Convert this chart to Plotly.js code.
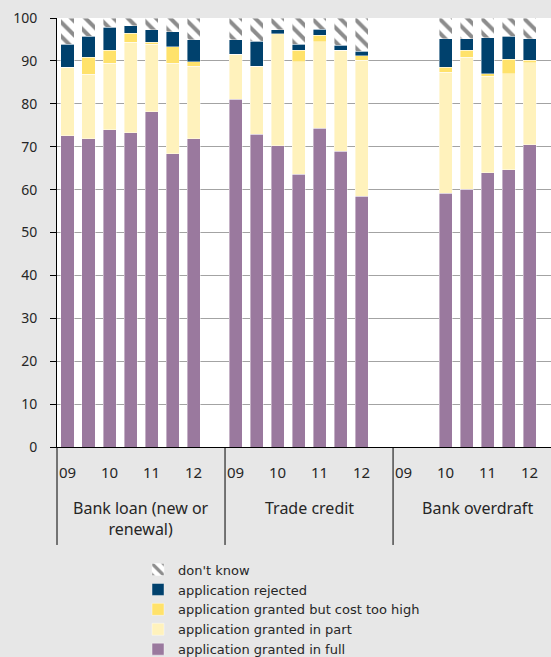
<!DOCTYPE html>
<html>
<head>
<meta charset="utf-8">
<script src="https://cdn.plot.ly/plotly-3.0.1.min.js"></script>
<style>html,body{margin:0;padding:0;background:#e7e7e7;}#chart{width:551px;height:657px;}</style>
</head>
<body>
<div id="chart"></div>
<script>
// Survey waves (half-years) and products
var waves = ["09H1","09H2","10H1","10H2","11H1","11H2","12H1"];
var waveLabels = ["09","","10","","11","","12"];
var products = ["Bank loan (new or renewal)", "Trade credit", "Bank overdraft"];
var productLabels = ["Bank loan (new or<br>renewal)", "Trade credit", "Bank overdraft"];

// Percent of applications, per product, per wave
var grantedFull = {
  loan:      [72.6, 71.8, 74.0, 73.2, 78.2, 68.4, 71.8],
  trade:     [81.1, 72.9, 70.2, 63.6, 74.3, 68.9, 58.5],
  overdraft: [null, null, 59.1, 60.1, 63.9, 64.6, 70.5]
};
var grantedPart = {
  loan:      [15.9, 15.1, 15.4, 21.2, 15.7, 21.0, 17.0],
  trade:     [10.4, 15.8, 26.1, 26.2, 20.2, 23.6, 31.6],
  overdraft: [null, null, 28.2, 30.8, 22.5, 22.4, 19.1]
};
var costTooHigh = {
  loan:      [0.0, 3.9, 3.1, 2.0, 0.4, 3.9, 1.0],
  trade:     [0.0, 0.0, 0.0, 2.7, 1.5, 0.0, 1.1],
  overdraft: [null, null, 1.2, 1.6, 0.6, 3.4, 0.5]
};
var rejected = {
  loan:      [5.4, 4.9, 5.3, 1.8, 3.0, 3.5, 5.1],
  trade:     [3.4, 5.9, 1.0, 1.4, 1.4, 1.1, 1.1],
  overdraft: [null, null, 6.7, 2.7, 8.4, 5.3, 5.1]
};
var dontKnow = {
  loan:      [6.1, 4.3, 2.2, 1.8, 2.7, 3.2, 5.1],
  trade:     [5.1, 5.4, 2.7, 6.1, 2.6, 6.4, 7.7],
  overdraft: [null, null, 4.8, 4.8, 4.6, 4.3, 4.8]
};
var productKeys = ["loan", "trade", "overdraft"];

// Build category keys: 7 waves per product + one empty gap slot
var cats = [];
var tickVals = [], tickText = [];
productKeys.forEach(function(pk, i){
  waves.forEach(function(w, j){
    var key = pk + "|" + w;
    cats.push(key);
    if (waveLabels[j] !== "") { tickVals.push(key); tickText.push(waveLabels[j]); }
  });
  cats.push("gap" + i);
});

function flatten(series){
  var out = [];
  productKeys.forEach(function(pk){
    out = out.concat(series[pk]);
    out.push(null);
  });
  return out;
}

var lineStyle = {color: "rgba(255,255,255,0.7)", width: 0.6};
var traces = [
  {name: "application granted in full", y: flatten(grantedFull), marker: {color: "#9a799e", line: lineStyle}},
  {name: "application granted in part", y: flatten(grantedPart), marker: {color: "#fff2bc", line: lineStyle}},
  {name: "application granted but cost too high", y: flatten(costTooHigh), marker: {color: "#ffe26b", line: lineStyle}},
  {name: "application rejected", y: flatten(rejected), marker: {color: "#00416d", line: lineStyle}},
  {name: "don't know", y: flatten(dontKnow), marker: {color: "white", line: lineStyle,
     pattern: {shape: "\\", fgcolor: "#8c8c8c", bgcolor: "white", size: 10, solidity: 0.4}}}
].map(function(t){
  t.type = "bar"; t.x = cats; t.hoverinfo = "y+name";
  return t;
});

var font = "Noto Sans, Open Sans, sans-serif";
var annotations = [];
productLabels.forEach(function(lbl, i){
  annotations.push({
    text: lbl, xref: "x", yref: "paper", x: i * 8 + 3.5, y: (i === 0 ? -0.167 : -0.142),
    xanchor: "center", yanchor: "middle", showarrow: false,
    font: {family: font, size: 16, color: "#262626"}
  });
});

var divY = -0.2284;
var shapes = [
  {type: "line", xref: "paper", yref: "paper", x0: 0, x1: 0, y0: 0, y1: divY, line: {color: "black", width: 1}},
  {type: "line", xref: "x", yref: "paper", x0: 7.5, x1: 7.5, y0: 0, y1: divY, line: {color: "black", width: 1}},
  {type: "line", xref: "x", yref: "paper", x0: 15.5, x1: 15.5, y0: 0, y1: divY, line: {color: "black", width: 1}}
];

var layout = {
  width: 551, height: 657,
  margin: {l: 57, r: 0, t: 18, b: 210, pad: 0, autoexpand: false},
  paper_bgcolor: "#e7e7e7",
  plot_bgcolor: "white",
  barmode: "stack",
  bargap: 0.38,
  showlegend: true,
  font: {family: font, color: "#262626"},
  xaxis: {
    type: "category", categoryorder: "array", categoryarray: cats,
    range: [-0.5, 23.02], fixedrange: true,
    tickvals: tickVals, ticktext: tickText,
    ticks: "outside", ticklen: 12, tickcolor: "rgba(0,0,0,0)",
    showline: true, linecolor: "black", linewidth: 1,
    showgrid: false, zeroline: false,
    tickfont: {family: font, size: 15, color: "#262626"}
  },
  yaxis: {
    range: [0, 100], dtick: 10, tick0: 0,
    ticks: "outside", ticklen: 6, tickcolor: "black", tickwidth: 1,
    showline: true, linecolor: "black", linewidth: 1,
    showgrid: true, gridcolor: "#a3a3a3", gridwidth: 1,
    zeroline: false, ticklabelstandoff: 10,
    tickfont: {family: font, size: 14, color: "#262626"}
  },
  legend: {
    x: 0.164, xanchor: "left", y: -0.2508, yanchor: "top",
    traceorder: "reversed", bgcolor: "rgba(0,0,0,0)",
    font: {family: "DejaVu Sans, Noto Sans, sans-serif", size: 13, color: "#262626"},
    itemclick: false, itemdoubleclick: false
  },
  annotations: annotations,
  shapes: shapes
};

Plotly.newPlot("chart", traces, layout, {displayModeBar: false, staticPlot: true});
</script>
</body>
</html>
